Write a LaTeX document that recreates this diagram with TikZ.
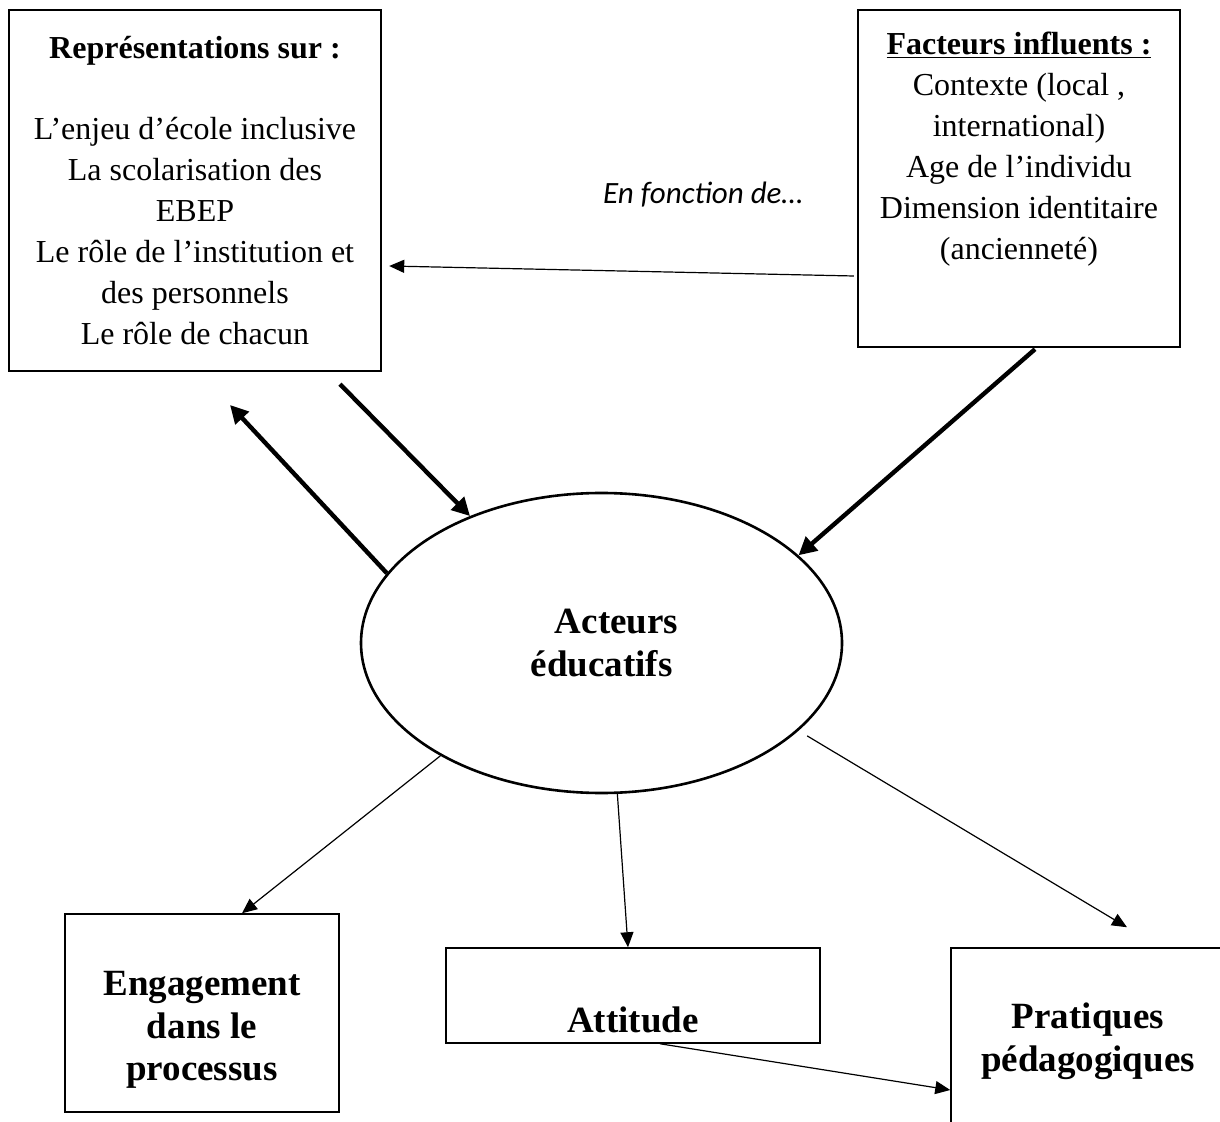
\documentclass[tikz,border=0pt]{standalone}
\usepackage{fontspec}
\setmainfont{Liberation Serif}
\newfontfamily\calibri{Carlito}
\usetikzlibrary{arrows.meta,shapes.geometric}

\begin{document}
\begin{tikzpicture}[x=0.5pt, y=-0.5pt, >={Triangle[length=7.5pt,width=6.5pt]},
	box/.style={draw, rectangle, inner sep=0pt, align=center},
	oval/.style={draw, ellipse, line width=1.3pt, inner sep=0pt, minimum width=240.5pt, minimum height=150pt},
	link/.style={->, line width=0.6pt},
	strong link/.style={-{Triangle[length=9pt,width=9pt]}, line width=2.2pt}]
			\clip (0,0) rectangle (1220,1122);
			% boxes of the top row
			\node[box, line width=1.2pt, minimum width=186pt, minimum height=180.5pt, font=\fontsize{16}{20.5}\selectfont] (repr) at (195,190.5)
			    {\textbf{Représentations sur :}\\[20pt] L’enjeu d’école inclusive\\ La scolarisation des\\ EBEP\\ Le rôle de l’institution et\\ des personnels\\ Le rôle de chacun};
			\node[box, line width=1.2pt, font=\fontsize{16}{20.5}\selectfont] (facteurs) at (1019,178.5)
			    {\parbox[c][168.5pt][t]{161pt}{\centering\vspace*{11pt}\underline{\textbf{Facteurs influents :}}\\ Contexte (local ,\\ international)\\ Age de l’individu\\ Dimension identitaire\\ (ancienneté)}};
			\node[font=\calibri\itshape\fontsize{15.5}{18}\selectfont] (enfonction) at (703,195) {En fonction de…};
			% centre
			\node[oval, align=center, font=\fontsize{18.5}{21.5}\selectfont\bfseries] (acteurs) at (601.5,643) {\hspace*{15pt}Acteurs\\ éducatifs};
			% boxes of the bottom row
			\node[box, line width=0.75pt, font=\fontsize{18.5}{21.25}\selectfont\bfseries] (engagement) at (202,1013)
			    {\parbox[c][99pt][c]{137pt}{\centering\vspace*{17pt}Engagement\\ dans le\\ processus}};
			\node[box, line width=0.75pt, font=\fontsize{18.5}{21.25}\selectfont\bfseries] (attitude) at (633,995.5)
			    {\parbox[c][47.5pt][c]{187pt}{\centering\vspace*{24.5pt}Attitude}};
			\node[box, line width=0.75pt, font=\fontsize{18.5}{21.5}\selectfont\bfseries] (pratiques) at (1088,1047)
			    {\parbox[c][99pt][c]{137pt}{\centering\vspace*{-5.5pt}Pratiques\\ pédagogiques}};
			\coordinate (retour) at (230,405);
			% connectors
			\draw[link] ([shift={(-3,97.5)}]facteurs.west) -- ([shift={(7,75.5)}]repr.east);
			\draw[strong link] ([shift={(145,12)}]repr.south) -- (acteurs.136);
			\draw[strong link] (acteurs.162) -- (retour);
			\draw[strong link] ([shift={(16,1)}]facteurs.south) -- (acteurs.24);
			\draw[link] (acteurs.215) -- ([shift={(40,0)}]engagement.north);
			\draw[link] (acteurs.-84) -- ([shift={(-5,0)}]attitude.north);
			\draw[link, shorten <=5pt] (acteurs.-24) -- ([shift={(39,-20)}]pratiques.north);
			\draw[link] ([shift={(27,0)}]attitude.south) -- ([shift={(0,43)}]pratiques.west);
		\end{tikzpicture}
\end{document}
